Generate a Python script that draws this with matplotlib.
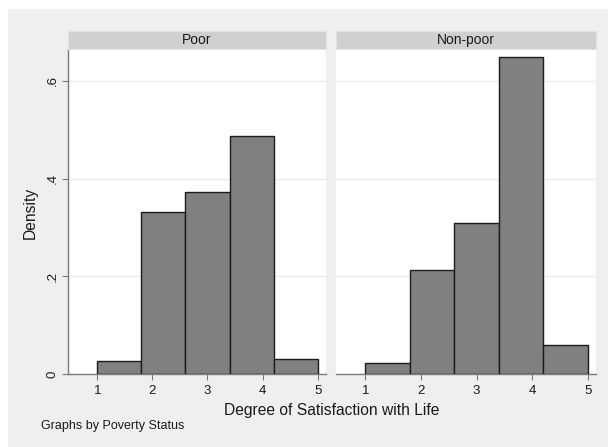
import matplotlib
matplotlib.use("Agg")
import matplotlib.pyplot as plt
from matplotlib.patches import Rectangle

# Histogram data: bin edges and density per bin for each group
bin_edges = [1.0, 1.8, 2.6, 3.4, 4.2, 5.0]
poor_density = [0.026, 0.332, 0.373, 0.487, 0.030]
nonpoor_density = [0.0225, 0.212, 0.308, 0.648, 0.059]
panel_titles = ["Poor", "Non-poor"]
y_ticks = [0, 0.2, 0.4, 0.6]
y_tick_labels = ["0", ".2", ".4", ".6"]
x_ticks = [1, 2, 3, 4, 5]

W, H = 608, 447
plt.rcParams["font.family"] = ["Liberation Sans", "DejaVu Sans"]
fig = plt.figure(figsize=(W / 100, H / 100), dpi=100)
fig.patch.set_facecolor("white")

def fx(px):
    return px / W

def fy(py):
    return 1 - py / H

# Outer graph region
fig.patches.append(Rectangle((fx(8), 0), 1 - fx(8), fy(9), transform=fig.transFigure,
                             facecolor="#efefef", edgecolor="none", zorder=-10))

text_color = "#1a1a1a"
panels = [(68, 326), (336, 596)]
top, bottom, strip_top = 49, 374, 31
widths = [b - a for a, b in zip(bin_edges[:-1], bin_edges[1:])]

for i, ((x0, x1), title, dens) in enumerate(zip(panels, panel_titles,
                                                 [poor_density, nonpoor_density])):
    ax = fig.add_axes([fx(x0), fy(bottom), fx(x1 - x0), (bottom - top) / H])
    ax.set_facecolor("white")
    ax.bar(bin_edges[:-1], dens, width=widths, align="edge", color="#808080",
           edgecolor="#1c1c1c", linewidth=1.0, zorder=3)
    ax.set_xlim(0.47, 5.15)
    ax.set_ylim(0, 0.665)
    ax.set_yticks(y_ticks)
    ax.yaxis.grid(True, color="#ebebeb", linewidth=1.0, zorder=0)
    ax.set_axisbelow(True)
    ax.set_xticks(x_ticks)
    ax.set_xticklabels([str(v) for v in x_ticks], fontsize=9.5, color=text_color)
    ax.tick_params(axis="x", length=4, width=0.8, color="#7a7a7a", pad=4)
    for s in ["top", "right"]:
        ax.spines[s].set_visible(False)
    ax.spines["bottom"].set_color("#7a7a7a")
    ax.spines["bottom"].set_linewidth(1.0)
    if i == 0:
        ax.set_yticklabels(y_tick_labels, fontsize=9.5, color=text_color,
                           rotation=90, va="center")
        ax.tick_params(axis="y", length=4, width=0.8, color="#7a7a7a", pad=3)
        ax.spines["left"].set_color("#7a7a7a")
        ax.spines["left"].set_linewidth(1.0)
    else:
        ax.spines["left"].set_visible(False)
        ax.tick_params(axis="y", length=0, labelleft=False)

    # Panel title strip
    sax = fig.add_axes([fx(x0), fy(top), fx(x1 - x0), (top - strip_top) / H])
    sax.set_facecolor("#d0d0d0")
    sax.set_xticks([])
    sax.set_yticks([])
    for s in sax.spines.values():
        s.set_color("#dde3e8")
        s.set_linewidth(0.8)
    sax.text(0.5, 0.5, title, ha="center", va="center", fontsize=10,
             color=text_color, transform=sax.transAxes)

fig.text(fx(30), fy(213), "Density", rotation=90, ha="center", va="center",
         fontsize=11.25, color=text_color)
fig.text(fx(332), fy(410), "Degree of Satisfaction with Life", ha="center",
         va="center", fontsize=11.25, color=text_color)
fig.text(fx(41), fy(426), "Graphs by Poverty Status", ha="left", va="center",
         fontsize=9, color=text_color)

fig.savefig("out.png", dpi=100, facecolor=fig.get_facecolor())
